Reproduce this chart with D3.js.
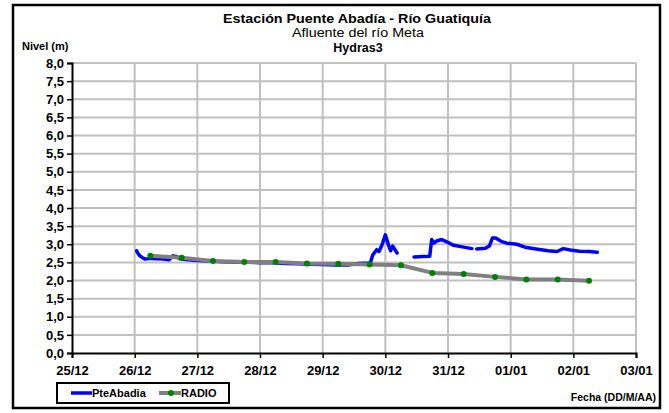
<!DOCTYPE html>
<html><head><meta charset="utf-8">
<script src="https://cdn.jsdelivr.net/npm/d3@7"></script>
<style>
body{margin:0;background:#fff;}
svg{display:block;font-family:"Liberation Sans",Arial,sans-serif;}
</style></head>
<body><svg id="c" width="669" height="413"></svg>
<script>
const titleLines = ["Estación Puente Abadía  - Río Guatiquía", "Afluente del río Meta", "Hydras3"];
const yTicks = [0,0.5,1,1.5,2,2.5,3,3.5,4,4.5,5,5.5,6,6.5,7,7.5,8];
const xStart = "2011-12-25T00:00", xEnd = "2012-01-03T00:00";

const abadiaTimes = [
 "2011-12-26T00:45","2011-12-26T01:10","2011-12-26T02:00","2011-12-26T03:00","2011-12-26T04:00",
 "2011-12-26T06:00","2011-12-26T08:30","2011-12-26T11:00","2011-12-26T13:10","2011-12-26T14:40",
 "2011-12-26T16:00","2011-12-26T17:20","2011-12-26T20:20","2011-12-27T00:00","2011-12-27T04:50",
 "2011-12-27T09:40","2011-12-27T14:20","2011-12-27T19:10","2011-12-28T00:00","2011-12-28T04:50",
 "2011-12-28T09:40","2011-12-28T14:20","2011-12-28T19:10","2011-12-29T00:00","2011-12-29T04:50",
 "2011-12-29T09:40","2011-12-29T13:40","2011-12-29T18:15","2011-12-29T19:10","2011-12-29T20:40",
 "2011-12-29T21:35","2011-12-29T22:50","2011-12-30T00:00","2011-12-30T01:10","2011-12-30T02:00",
 "2011-12-30T02:50","2011-12-30T04:30","2011-12-30T08:00",
 "2011-12-30T11:00","2011-12-30T14:20","2011-12-30T17:00","2011-12-30T17:45","2011-12-30T18:30",
 "2011-12-30T19:40","2011-12-30T21:35","2011-12-31T00:00","2011-12-31T02:10","2011-12-31T06:00",
 "2011-12-31T09:10","2011-12-31T10:00",
 "2011-12-31T11:00","2011-12-31T14:20","2011-12-31T15:50","2011-12-31T17:00","2011-12-31T18:15",
 "2011-12-31T20:20","2011-12-31T22:30","2012-01-01T02:20","2012-01-01T05:30","2012-01-01T09:40",
 "2012-01-01T14:20","2012-01-01T17:45","2012-01-01T20:10","2012-01-01T22:50","2012-01-02T02:20",
 "2012-01-02T06:00","2012-01-02T09:10"];
const abadiaValues = [
 2.82,2.76,2.68,2.63,2.59,
 2.61,2.60,2.59,2.57,2.68,
 2.66,2.60,2.57,2.55,2.54,
 2.52,2.51,2.50,2.49,2.49,
 2.47,2.46,2.45,2.44,2.43,
 2.43,2.47,2.48,2.70,2.85,
 2.80,3.00,3.26,2.99,2.82,
 2.95,2.76,null,
 2.65,2.66,2.67,3.13,3.03,
 3.09,3.13,3.05,2.97,2.92,
 2.88,null,
 2.87,2.89,2.95,3.17,3.17,
 3.08,3.03,3.00,2.92,2.87,
 2.82,2.80,2.88,2.84,2.81,
 2.80,2.78];

const radioTimes = [
 "2011-12-26T06:00","2011-12-26T18:00","2011-12-27T06:00","2011-12-27T18:00",
 "2011-12-28T06:00","2011-12-28T18:00","2011-12-29T06:00","2011-12-29T18:00",
 "2011-12-30T06:00","2011-12-30T18:00","2011-12-31T06:00","2011-12-31T18:00",
 "2012-01-01T06:00","2012-01-01T18:00","2012-01-02T06:00"];
const radioValues = [2.68,2.63,2.54,2.51,2.51,2.47,2.46,2.44,2.42,2.21,2.18,2.10,2.03,2.03,1.99];

const seriesNames = ["PteAbadia","RADIO"];

const svg = d3.select("#c");
const L = 72, R = 636, T = 63, B = 353;
const x = d3.scaleTime().domain([new Date(xStart), new Date(xEnd)]).range([L, R]);
const y = d3.scaleLinear().domain([0, 8]).range([B, T]);
const fmt = d3.format(".1f");
const comma = v => fmt(v).replace(".", ",");

// outer border
svg.append("rect").attr("x",13).attr("y",5).attr("width",647).attr("height",403)
  .attr("fill","#fff").attr("stroke","#000").attr("stroke-width",2.5);

// grid
const days = d3.timeDay.range(new Date(xStart), d3.timeDay.offset(new Date(xEnd),1));
svg.append("g").selectAll("line").data(yTicks.slice(1)).join("line")
  .attr("x1",L).attr("x2",R).attr("y1",d=>y(d)).attr("y2",d=>y(d))
  .attr("stroke","#c0c0c0").attr("stroke-width",2);
svg.append("g").selectAll("line").data(days.slice(1)).join("line")
  .attr("x1",d=>x(d)).attr("x2",d=>x(d)).attr("y1",T).attr("y2",B)
  .attr("stroke","#c0c0c0").attr("stroke-width",2);

// axes
const xAxis = d3.axisBottom(x).ticks(d3.timeDay.every(1)).tickFormat(d3.timeFormat("%d/%m")).tickSizeOuter(0).tickSize(5);
const gx = svg.append("g").attr("transform",`translate(0,${B})`).call(xAxis);
gx.select(".domain").attr("stroke","#000").attr("stroke-width",2);
gx.selectAll(".tick line").attr("stroke","#000").attr("stroke-width",1.5);
gx.selectAll(".tick text").attr("font-size",13).attr("font-weight","bold").attr("fill","#000")
  .attr("font-family","Liberation Sans, Arial, sans-serif").attr("dy","1.05em");

const yAxis = d3.axisLeft(y).tickValues(yTicks).tickFormat(comma).tickSizeOuter(0).tickSize(5);
const gy = svg.append("g").attr("transform",`translate(${L},0)`).call(yAxis);
gy.select(".domain").attr("stroke","#000").attr("stroke-width",2);
gy.selectAll(".tick line").attr("stroke","#000").attr("stroke-width",1.5);
gy.selectAll(".tick text").attr("font-size",13).attr("font-weight","bold").attr("fill","#000")
  .attr("font-family","Liberation Sans, Arial, sans-serif").attr("x",-8);

// series
const abadia = abadiaTimes.map((t,i)=>({t:new Date(t), v:abadiaValues[i]}));
const radio = radioTimes.map((t,i)=>({t:new Date(t), v:radioValues[i]}));
const line = d3.line().defined(d=>d.v!=null).x(d=>x(d.t)).y(d=>y(d.v));

svg.append("path").datum(abadia).attr("d",line).attr("fill","none")
  .attr("stroke","#0000ff").attr("stroke-width",3.5).attr("stroke-linejoin","round").attr("stroke-linecap","round");
svg.append("path").datum(radio).attr("d",line).attr("fill","none")
  .attr("stroke","#808080").attr("stroke-width",4).attr("stroke-linejoin","round");
svg.append("g").selectAll("circle").data(radio).join("circle")
  .attr("cx",d=>x(d.t)).attr("cy",d=>y(d.v)).attr("r",3).attr("fill","#008000");

// titles
const tg = svg.append("g").attr("text-anchor","middle").attr("fill","#000");
tg.append("text").attr("x",357).attr("y",23).attr("font-size",12).attr("font-weight","bold")
  .attr("textLength",268).attr("lengthAdjust","spacingAndGlyphs").text(titleLines[0]);
tg.append("text").attr("x",358).attr("y",37).attr("font-size",12)
  .attr("textLength",132).attr("lengthAdjust","spacingAndGlyphs").text(titleLines[1]);
tg.append("text").attr("x",358).attr("y",51.5).attr("font-size",12.5).attr("font-weight","bold").text(titleLines[2]);
svg.append("text").attr("x",22).attr("y",50).attr("font-size",11).attr("font-weight","bold").text("Nivel (m)");
svg.append("text").attr("x",656).attr("y",401).attr("text-anchor","end").attr("font-size",10.5).attr("font-weight","bold").text("Fecha (DD/M/AA)");

// legend
const lg = svg.append("g");
lg.append("rect").attr("x",57).attr("y",383).attr("width",172).attr("height",20)
  .attr("fill","#fff").attr("stroke","#000").attr("stroke-width",2);
lg.append("line").attr("x1",71).attr("x2",92).attr("y1",393).attr("y2",393).attr("stroke","#0000ff").attr("stroke-width",3.5);
lg.append("text").attr("x",92).attr("y",397).attr("font-size",11).attr("font-weight","bold").text(seriesNames[0]);
lg.append("line").attr("x1",159).attr("x2",181).attr("y1",393).attr("y2",393).attr("stroke","#808080").attr("stroke-width",4);
lg.append("circle").attr("cx",171).attr("cy",393).attr("r",3).attr("fill","#008000");
lg.append("text").attr("x",181).attr("y",397).attr("font-size",11).attr("font-weight","bold").text(seriesNames[1]);
</script></body></html>
